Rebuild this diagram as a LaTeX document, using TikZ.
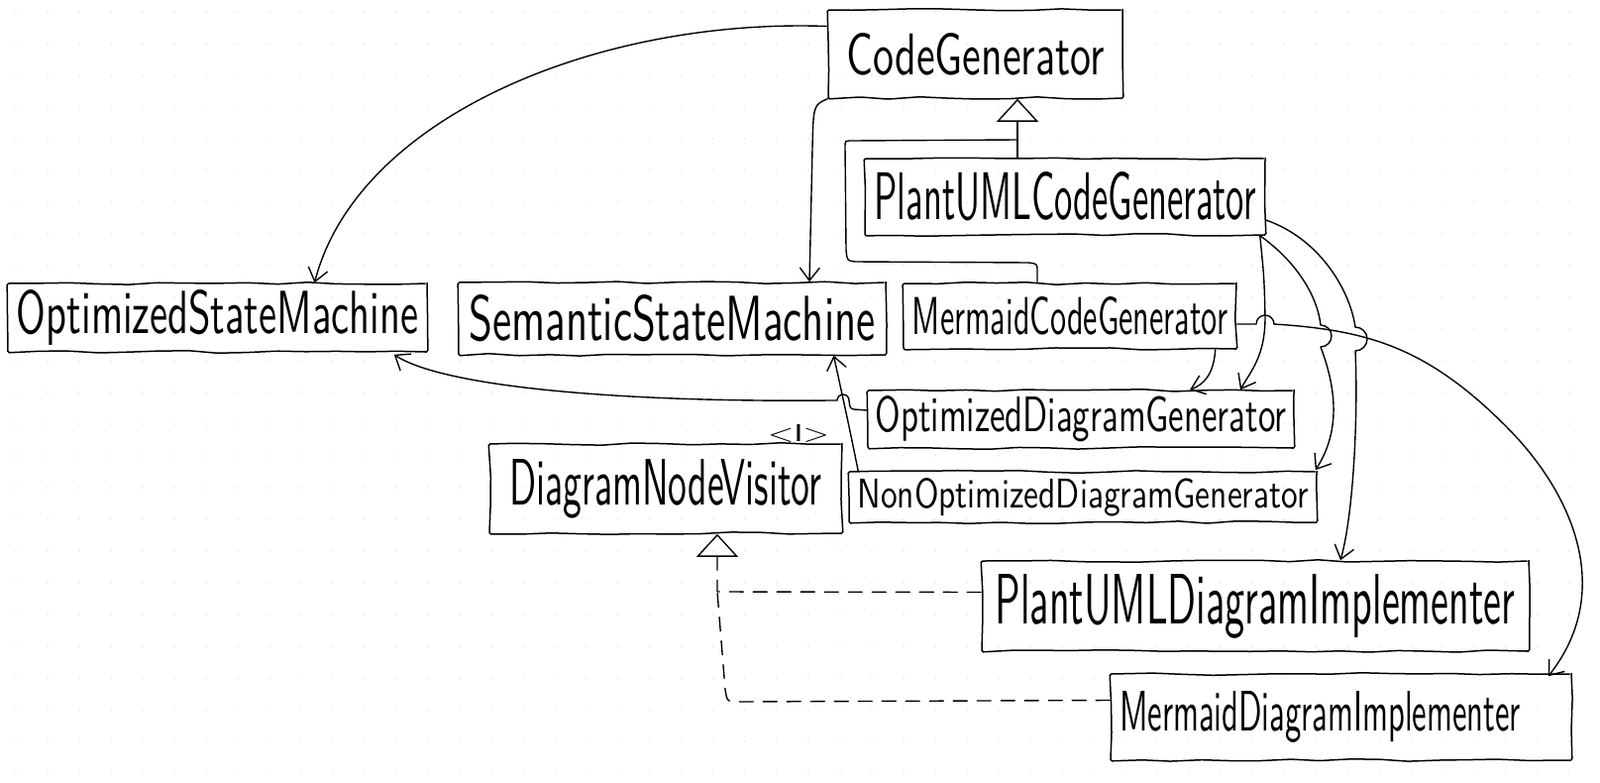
\documentclass[tikz,border=0pt]{standalone}
\usepackage{graphicx}
\usetikzlibrary{arrows.meta,decorations.pathmorphing,calc}
\definecolor{dotc}{RGB}{222,228,238}
\newcommand{\hw}[3]{\resizebox{#1pt}{#2pt}{\sffamily #3}}
\begin{document}
\begin{tikzpicture}[x=1pt,y=-1pt,
  box/.style={draw, line width=1.5pt, inner sep=0pt, decorate,
    decoration={random steps,segment length=30pt,amplitude=1.3pt}, rounded corners=1.5pt},
  conn/.style={line width=1.4pt, line join=round, line cap=round},
  vtip/.style={-{Straight Barb[length=13pt,width=20pt,line width=1.4pt]}},
  inh/.style={-{Triangle[open,length=23pt,width=42pt,line width=1.4pt]}},
  dashline/.style={conn, dash pattern=on 14pt off 10pt}]
\useasboundingbox (0,0) rectangle (1615,790);
\fill[white] (0,0) rectangle (1615,790);
\foreach \i in {0,...,50}{\foreach \j in {0,...,24}{\fill[dotc] (16+\i*32,12+\j*32) circle (0.9pt);}}

% classes
\node[box, minimum width=297pt, minimum height=89pt] (cg) at (984.5,54.5) {\hw{260}{42}{CodeGenerator}};
\node[box, minimum width=404pt, minimum height=77pt] (pcg) at (1075,198.5) {\hw{385}{48}{PlantUMLCodeGenerator}};
\node[box, minimum width=423pt, minimum height=69pt] (osm) at (219.5,320.5) {\hw{405}{44}{OptimizedStateMachine}};
\node[box, minimum width=431pt, minimum height=73pt] (ssm) at (678.5,321.5) {\hw{410}{46}{SemanticStateMachine}};
\node[box, minimum width=336pt, minimum height=66pt] (mcg) at (1080,319) {\hw{318}{38}{MermaidCodeGenerator}};
\node[box, minimum width=430pt, minimum height=58pt] (odg) at (1091,423) {\hw{415}{36}{OptimizedDiagramGenerator}};
\node[box, minimum width=356pt, minimum height=90pt] (dnv) at (672,493) {\hw{315}{46}{DiagramNodeVisitor}};
\node[box, minimum width=472pt, minimum height=51pt] (nodg) at (1093,501.5) {\hw{455}{30}{NonOptimizedDiagramGenerator}};
\node[box, minimum width=552pt, minimum height=91pt] (pdi) at (1267,611.5) {\hw{525}{50}{PlantUMLDiagramImplementer}};
\node[box, minimum width=465pt, minimum height=87pt] (mdi) at (1353.5,723.5) {\hspace*{-42pt}\hw{405}{40}{MermaidDiagramImplementer}};
\node[inner sep=0pt] (iface) at (806,437) {\hw{62}{17}{<I>}};

% CodeGenerator -> OptimizedStateMachine
\draw[conn,vtip] ($(cg.west)+(0,-28)$) .. controls (600,18) and (360,120) .. ($(osm.north)+(98,0)$);
% CodeGenerator -> SemanticStateMachine
\draw[conn,vtip] (cg.south west) .. controls (821,106) .. (820,150) -- ($(ssm.north)+(138.5,0)$);
% PlantUMLCodeGenerator inherits CodeGenerator
\draw[conn,inh] ($(pcg.north)+(-48,0)$) -- ($(cg.south)+(42.5,0)$);
% MermaidCodeGenerator inherits CodeGenerator
\draw[conn] ($(mcg.north)+(-33,0)$) -- (1047,274) .. controls (1047,266) .. (1038,265)
  -- (863,264) .. controls (855,263) .. (854,252) -- (853,148) .. controls (853,142) .. (860,142) -- (1027,141);
% OptimizedDiagramGenerator -> OptimizedStateMachine
\draw[conn,vtip] ($(odg.west)+(0,-9)$) -- (862,413) .. controls (858,412) .. (857,404)
  arc[start angle=0,end angle=-180,radius=6] -- (838,404)
  .. controls (640,406) and (450,392) .. ($(osm.south east)+(-34,2)$);
% NonOptimizedDiagramGenerator -> SemanticStateMachine
\draw[conn,vtip] ($(nodg.north west)+(10,0)$) .. controls (857,430) .. ($(ssm.south)+(163,0)$);
% PlantUMLCodeGenerator -> OptimizedDiagramGenerator
\draw[conn,vtip] ($(pcg.south east)+(-6,0)$) .. controls (1276,280) .. (1277,320)
  .. controls (1277,360) and (1262,375) .. ($(odg.north)+(161,0)$);
% PlantUMLCodeGenerator -> NonOptimizedDiagramGenerator
\draw[conn,vtip] ($(pcg.south east)+(-6,0)$) .. controls (1310,265) and (1330,300) .. (1333,328)
  arc[start angle=-90,end angle=90,radius=11]
  .. controls (1352,400) and (1350,440) .. ($(nodg.north east)+(-2,-1)$);
% PlantUMLCodeGenerator -> PlantUMLDiagramImplementer
\draw[conn,vtip] ($(pcg.east)+(0,23.5)$) .. controls (1330,240) and (1362,290) .. (1368,330)
  arc[start angle=-90,end angle=90,radius=12]
  .. controls (1371,420) and (1366,520) .. ($(pdi.north)+(86,0)$);
% MermaidCodeGenerator -> MermaidDiagramImplementer
\draw[conn,vtip] ($(mcg.east)+(0,8)$) -- (1268,327)
  arc[start angle=180,end angle=360,radius=9]
  .. controls (1380,333) and (1440,350) .. (1520,430)
  .. controls (1592,502) and (1628,600) .. ($(mdi.north east)+(-24,3)$);
% MermaidCodeGenerator -> OptimizedDiagramGenerator
\draw[conn,vtip] ($(mcg.south east)+(-22,0)$) .. controls (1225,378) and (1215,388) .. ($(odg.north)+(110,0)$);
% PlantUMLDiagramImplementer realizes DiagramNodeVisitor
\draw[dashline,inh] ($(pdi.west)+(0,-14)$) -- (724,597) -- ($(dnv.south)+(52,0)$);
% MermaidDiagramImplementer realizes DiagramNodeVisitor
\draw[dashline] ($(mdi.west)+(0,-17)$) -- (746,708) .. controls (734,708) .. (732,696) -- (724,597);
\end{tikzpicture}
\end{document}
